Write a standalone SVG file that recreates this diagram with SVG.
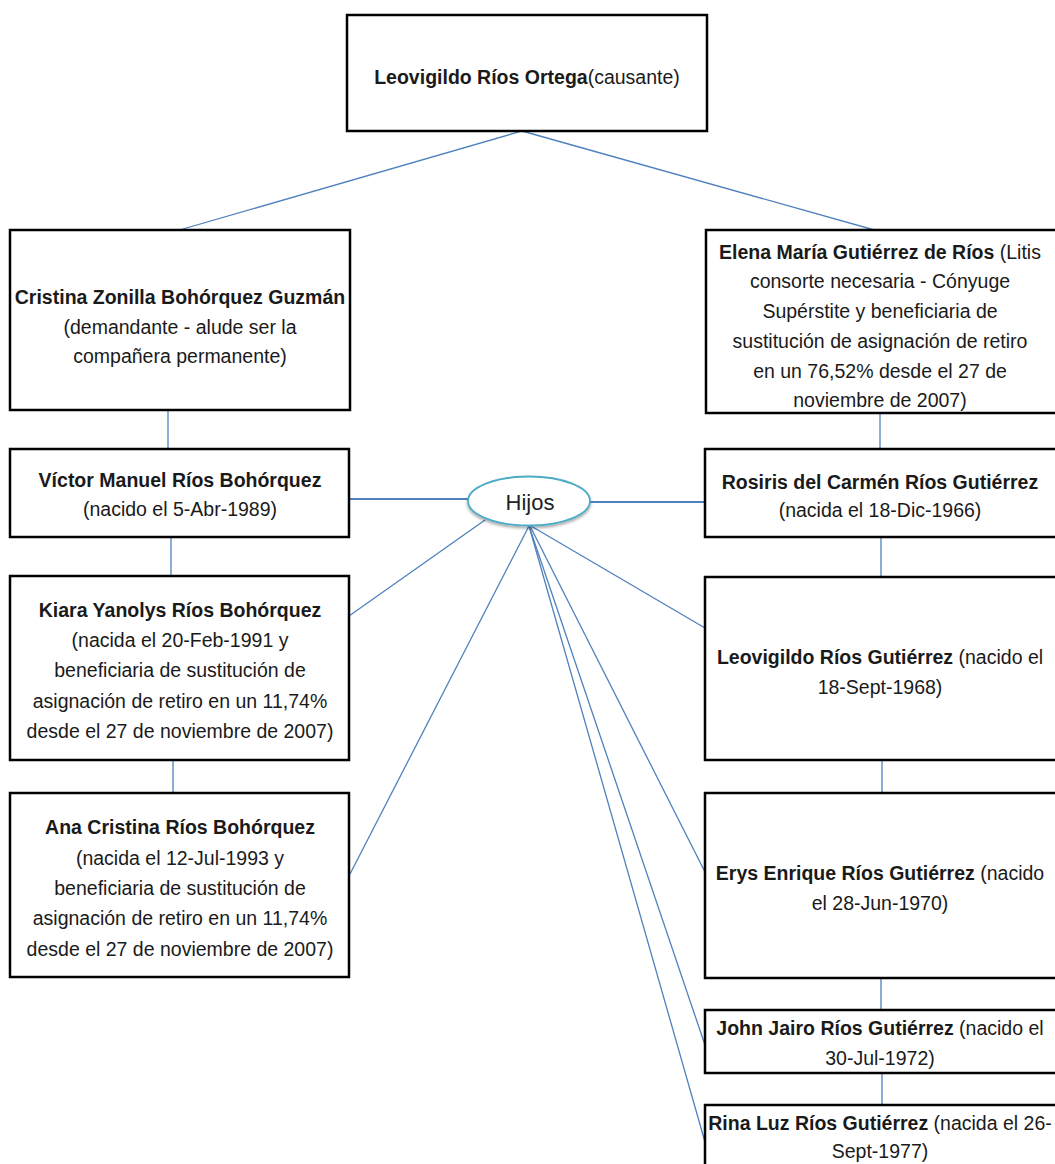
<svg xmlns="http://www.w3.org/2000/svg" width="1055" height="1164" viewBox="0 0 1055 1164">
<style>
  .box { fill: #ffffff; stroke: #000000; stroke-width: 2.5; }
  .t { font-family: "Liberation Sans", Arial, sans-serif; font-size: 19.5px; fill: #1a1a1a; text-anchor: middle; }
  .b { font-weight: bold; }
  .h { font-size: 22px; fill: #222222; }
  .c { stroke: #4f81bd; fill: none; stroke-width: 1.3; }
  .cw { stroke: #4f81bd; fill: none; stroke-width: 2.2; }
  .oval { fill: #ffffff; stroke: #4bacc6; stroke-width: 1.8; }
</style>
<defs>
  <filter id="sh" x="-20%" y="-20%" width="140%" height="160%">
    <feDropShadow dx="0" dy="2" stdDeviation="1.5" flood-color="#000000" flood-opacity="0.35"/>
  </filter>
</defs>
<rect width="1055" height="1164" fill="#ffffff"/>

<g id="connectors">
  <line class="c" x1="522" y1="131" x2="176" y2="231"/>
  <line class="c" x1="522" y1="131" x2="878" y2="231"/>
  <line class="c" x1="168" y1="410" x2="168" y2="449"/>
  <line class="c" x1="171" y1="537" x2="171" y2="576"/>
  <line class="c" x1="173" y1="760" x2="173" y2="793"/>
  <line class="c" x1="880" y1="413" x2="880" y2="449"/>
  <line class="c" x1="881" y1="537" x2="881" y2="577"/>
  <line class="c" x1="882" y1="760" x2="882" y2="793"/>
  <line class="c" x1="881" y1="978" x2="881" y2="1010"/>
  <line class="c" x1="882" y1="1073" x2="882" y2="1105"/>
  <line class="cw" x1="349" y1="499" x2="468" y2="499"/>
  <line class="cw" x1="590" y1="502" x2="705" y2="502"/>
  <line class="c" x1="485" y1="520" x2="349" y2="616"/>
  <line class="c" x1="529" y1="526" x2="350" y2="874"/>
  <line class="c" x1="531" y1="526" x2="705" y2="628"/>
  <line class="c" x1="530" y1="526" x2="705" y2="872"/>
  <line class="c" x1="529" y1="526" x2="706" y2="1048"/>
  <line class="c" x1="529" y1="526" x2="705" y2="1142"/>
</g>

<g id="causante">
  <rect class="box" x="347" y="15" width="360" height="116"/>
  <text class="t" x="527" y="84"><tspan class="b">Leovigildo Ríos Ortega</tspan>(causante)</text>
</g>

<g id="cristina">
  <rect class="box" x="10" y="230" width="340" height="180"/>
  <text class="t" x="180" y="304"><tspan class="b">Cristina Zonilla Bohórquez Guzmán</tspan></text>
  <text class="t" x="180" y="334">(demandante - alude ser la</text>
  <text class="t" x="180" y="363">compañera permanente)</text>
</g>

<g id="elena">
  <rect class="box" x="706" y="230" width="360" height="183"/>
  <text class="t" x="880" y="259"><tspan class="b">Elena María Gutiérrez de Ríos</tspan> (Litis</text>
  <text class="t" x="880" y="288">consorte necesaria - Cónyuge</text>
  <text class="t" x="880" y="318">Supérstite y beneficiaria de</text>
  <text class="t" x="880" y="348">sustitución de asignación de retiro</text>
  <text class="t" x="880" y="378">en un 76,52% desde el 27 de</text>
  <text class="t" x="880" y="407">noviembre de 2007)</text>
</g>

<g id="victor">
  <rect class="box" x="10" y="449" width="339" height="88"/>
  <text class="t" x="180" y="487"><tspan class="b">Víctor Manuel Ríos Bohórquez</tspan></text>
  <text class="t" x="180" y="516">(nacido el 5-Abr-1989)</text>
</g>

<g id="kiara">
  <rect class="box" x="10" y="576" width="339" height="184"/>
  <text class="t" x="180" y="617"><tspan class="b">Kiara Yanolys Ríos Bohórquez</tspan></text>
  <text class="t" x="180" y="647">(nacida el 20-Feb-1991 y</text>
  <text class="t" x="180" y="677">beneficiaria de sustitución de</text>
  <text class="t" x="180" y="708">asignación de retiro en un 11,74%</text>
  <text class="t" x="180" y="738">desde el 27 de noviembre de 2007)</text>
</g>

<g id="ana">
  <rect class="box" x="10" y="793" width="339" height="184"/>
  <text class="t" x="180" y="834"><tspan class="b">Ana Cristina Ríos Bohórquez</tspan></text>
  <text class="t" x="180" y="865">(nacida el 12-Jul-1993 y</text>
  <text class="t" x="180" y="895">beneficiaria de sustitución de</text>
  <text class="t" x="180" y="925">asignación de retiro en un 11,74%</text>
  <text class="t" x="180" y="956">desde el 27 de noviembre de 2007)</text>
</g>

<g id="hijos">
  <ellipse class="oval" cx="529" cy="501" rx="61" ry="24.5" filter="url(#sh)"/>
  <text class="t h" x="530" y="510">Hijos</text>
</g>

<g id="rosiris">
  <rect class="box" x="705" y="449" width="360" height="88"/>
  <text class="t" x="880" y="489"><tspan class="b">Rosiris del Carmén Ríos Gutiérrez</tspan></text>
  <text class="t" x="880" y="517">(nacida el 18-Dic-1966)</text>
</g>

<g id="leovigildo-rg">
  <rect class="box" x="705" y="577" width="360" height="183"/>
  <text class="t" x="880" y="664"><tspan class="b">Leovigildo Ríos Gutiérrez</tspan> (nacido el</text>
  <text class="t" x="880" y="694">18-Sept-1968)</text>
</g>

<g id="erys">
  <rect class="box" x="705" y="793" width="360" height="185"/>
  <text class="t" x="880" y="880"><tspan class="b">Erys Enrique Ríos Gutiérrez</tspan> (nacido</text>
  <text class="t" x="880" y="910">el 28-Jun-1970)</text>
</g>

<g id="john">
  <rect class="box" x="705" y="1010" width="360" height="63"/>
  <text class="t" x="880" y="1035"><tspan class="b">John Jairo Ríos Gutiérrez</tspan> (nacido el</text>
  <text class="t" x="880" y="1065">30-Jul-1972)</text>
</g>

<g id="rina">
  <rect class="box" x="705" y="1105" width="360" height="80"/>
  <text class="t" x="880" y="1130"><tspan class="b">Rina Luz Ríos Gutiérrez</tspan> (nacida el 26-</text>
  <text class="t" x="880" y="1158">Sept-1977)</text>
</g>
</svg>
